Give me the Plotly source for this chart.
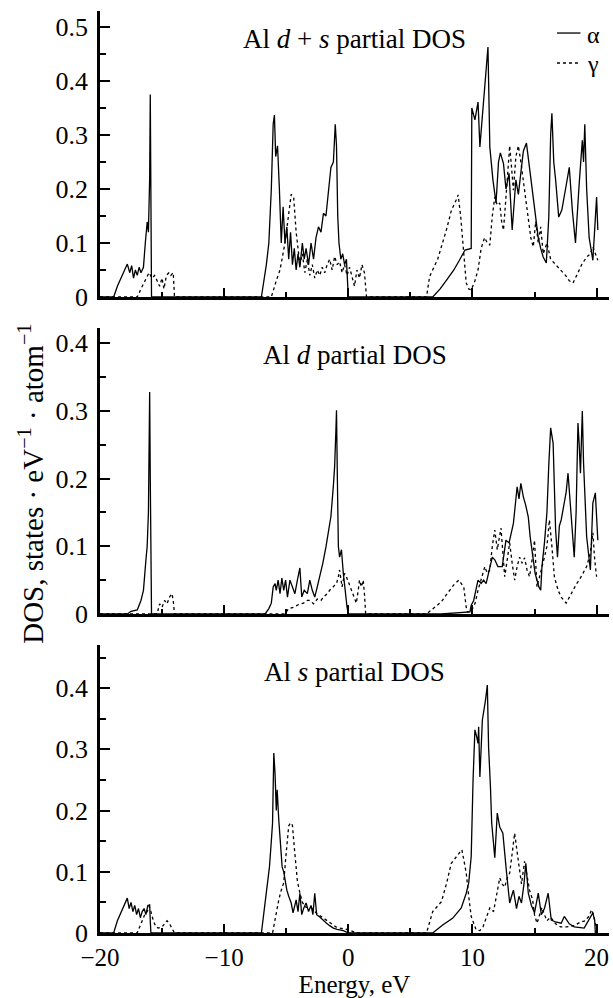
import plotly.graph_objects as go

# ---------------- data (energy in eV, DOS in states/eV/atom) ----------------
# Panel 1: Al d + s partial DOS
ds_alpha_E = [-20, -18.9, -18.6, -18.2, -17.8, -17.6, -17.45, -17.3, -17.15, -17.0, -16.85, -16.7, -16.5, -16.35, -16.2, -16.1, -16.0, -15.95, -15.9, -15.85,
              -7.0, -6.6, -6.4, -6.2, -6.05, -5.95, -5.85, -5.7, -5.55, -5.4, -5.25, -5.1, -4.95, -4.8, -4.65, -4.5, -4.35, -4.2, -4.05, -3.9, -3.7, -3.55, -3.4, -3.2, -3.0, -2.8, -2.6, -2.4, -2.2, -2.0, -1.8, -1.6, -1.4, -1.2, -1.05, -0.95, -0.85, -0.75, -0.6, -0.45, -0.3, -0.15, 0.0,
              6.8, 7.4, 7.9, 8.5, 8.95, 9.4, 9.9, 9.95, 10.2, 10.45, 10.6, 10.8, 11.1, 11.25, 11.4, 11.65, 11.9, 12.1, 12.25, 12.5, 12.7, 12.95, 13.2, 13.5, 13.7, 13.9, 14.1, 14.35, 14.55, 14.75, 15.0, 15.3, 15.5, 15.7, 15.95, 16.15, 16.3, 16.4, 16.55, 16.7, 16.95, 17.2, 17.5, 17.8, 18.05, 18.3, 18.6, 18.85, 18.95, 19.05, 19.2, 19.4, 19.7, 19.9, 20.0, 20.1]
ds_alpha_V = [0, 0, 0.02, 0.04, 0.061, 0.045, 0.058, 0.035, 0.05, 0.04, 0.055, 0.045, 0.055, 0.1, 0.139, 0.12, 0.22, 0.375, 0.15, 0,
              0, 0.06, 0.1, 0.2, 0.32, 0.337, 0.26, 0.28, 0.2, 0.1, 0.167, 0.1, 0.13, 0.07, 0.12, 0.06, 0.09, 0.05, 0.08, 0.055, 0.1, 0.07, 0.09, 0.06, 0.1, 0.07, 0.11, 0.13, 0.12, 0.155, 0.15, 0.19, 0.24, 0.25, 0.32, 0.28, 0.15, 0.1, 0.07, 0.08, 0.06, 0.07, 0,
              0, 0.015, 0.031, 0.05, 0.068, 0.087, 0.09, 0.35, 0.328, 0.361, 0.278, 0.34, 0.42, 0.463, 0.278, 0.217, 0.174, 0.25, 0.267, 0.247, 0.2, 0.229, 0.124, 0.217, 0.19, 0.235, 0.27, 0.285, 0.25, 0.21, 0.161, 0.11, 0.09, 0.074, 0.063, 0.148, 0.3, 0.34, 0.25, 0.217, 0.148, 0.161, 0.2, 0.24, 0.16, 0.1, 0.21, 0.29, 0.25, 0.32, 0.2, 0.11, 0.068, 0.15, 0.185, 0.124]
ds_gamma_E = [-20, -17.0, -16.7, -16.4, -16.05, -15.8, -15.6, -15.4, -15.2, -15.0, -14.85, -14.65, -14.45, -14.3, -14.1, -14.0,
              -6.2, -5.8, -5.5, -5.1, -4.8, -4.6, -4.4, -4.2, -3.9, -3.7, -3.5, -3.3, -3.1, -2.9, -2.7, -2.5, -2.3, -2.1, -1.9, -1.7, -1.5, -1.3, -1.1, -0.9, -0.7, -0.5, -0.3, -0.1, 0.1, 0.3, 0.5, 0.7, 0.9, 1.1, 1.3, 1.47,
              6.3, 6.55, 7.2, 7.9, 8.3, 8.7, 8.85, 9.05, 9.25, 9.5, 9.7, 9.9, 10.2, 10.45, 10.7, 10.98, 11.2, 11.4, 11.6, 11.8, 12.0, 12.2, 12.35, 12.5, 12.75, 13.0, 13.15, 13.3, 13.5, 13.7, 13.9, 14.1, 14.3, 14.5, 14.7, 14.9, 15.1, 15.3, 15.5, 15.7, 16.0, 16.3, 16.7, 17.1, 17.5, 17.8, 18.1, 18.4, 18.8, 19.2, 19.5, 19.7, 19.9, 20.1]
ds_gamma_V = [0, 0, 0.015, 0.03, 0.045, 0.035, 0.04, 0.03, 0.02, 0.035, 0.015, 0.04, 0.045, 0.04, 0.045, 0,
              0, 0.03, 0.05, 0.1, 0.16, 0.19, 0.185, 0.12, 0.06, 0.08, 0.045, 0.07, 0.04, 0.06, 0.035, 0.05, 0.04, 0.055, 0.045, 0.06, 0.07, 0.05, 0.075, 0.06, 0.065, 0.045, 0.06, 0.04, 0.055, 0.035, 0.02, 0.05, 0.035, 0.06, 0.045, 0,
              0, 0.038, 0.07, 0.124, 0.16, 0.18, 0.189, 0.15, 0.1, 0.026, 0.015, 0.013, 0.03, 0.05, 0.09, 0.11, 0.1, 0.096, 0.15, 0.185, 0.17, 0.174, 0.14, 0.124, 0.2, 0.28, 0.24, 0.198, 0.26, 0.28, 0.25, 0.216, 0.18, 0.148, 0.11, 0.093, 0.14, 0.1, 0.13, 0.08, 0.1, 0.07, 0.06, 0.05, 0.04, 0.03, 0.026, 0.04, 0.06, 0.074, 0.08, 0.093, 0.08, 0.068]

# Panel 2: Al d partial DOS
d_alpha_E = [-20, -17.8, -17.5, -17.0, -16.7, -16.5, -16.3, -16.2, -16.1, -16.0, -15.95, -15.85,
             -6.7, -6.4, -6.2, -6.05, -5.9, -5.8, -5.65, -5.5, -5.35, -5.2, -5.05, -4.9, -4.7, -4.5, -4.3, -4.1, -3.9, -3.75, -3.55, -3.3, -3.1, -2.9, -2.7, -2.5, -2.3, -2.05, -1.8, -1.6, -1.4, -1.2, -1.1, -1.0, -0.95, -0.88, -0.8, -0.7, -0.55, -0.4, -0.25, -0.1, 0.0,
             7.5, 9.8, 9.9, 10.1, 10.3, 10.45, 10.7, 10.9, 11.1, 11.3, 11.6, 11.8, 12.05, 12.4, 12.7, 12.95, 13.15, 13.3, 13.6, 13.75, 13.9, 14.1, 14.3, 14.5, 14.65, 14.9, 15.05, 15.2, 15.35, 15.5, 15.6, 15.8, 16.0, 16.15, 16.3, 16.5, 16.7, 16.85, 17.0, 17.15, 17.4, 17.55, 17.7, 17.95, 18.2, 18.35, 18.5, 18.6, 18.7, 18.85, 18.95, 19.2, 19.5, 19.7, 19.9, 20.1]
d_alpha_V = [0, 0, 0.004, 0.006, 0.02, 0.035, 0.08, 0.1, 0.15, 0.328, 0.2, 0,
             0, 0.008, 0.016, 0.04, 0.045, 0.035, 0.05, 0.03, 0.053, 0.035, 0.05, 0.025, 0.05, 0.04, 0.03, 0.05, 0.068, 0.025, 0.035, 0.03, 0.05, 0.035, 0.025, 0.04, 0.055, 0.075, 0.099, 0.12, 0.144, 0.19, 0.218, 0.27, 0.301, 0.2, 0.1, 0.084, 0.095, 0.06, 0.03, 0.01, 0,
             0, 0.003, 0.013, 0.02, 0.04, 0.05, 0.045, 0.05, 0.045, 0.06, 0.084, 0.08, 0.07, 0.07, 0.109, 0.105, 0.12, 0.134, 0.188, 0.17, 0.193, 0.173, 0.16, 0.143, 0.114, 0.075, 0.06, 0.05, 0.04, 0.035, 0.07, 0.105, 0.15, 0.22, 0.275, 0.252, 0.124, 0.084, 0.13, 0.139, 0.164, 0.18, 0.208, 0.139, 0.084, 0.15, 0.282, 0.25, 0.208, 0.3, 0.223, 0.114, 0.065, 0.164, 0.179, 0.109]
d_gamma_E = [-20, -15.4, -15.2, -15.0, -14.8, -14.6, -14.4, -14.2, -14.1, -14.0,
             -5.1, -4.8, -4.4, -4.0, -3.6, -3.3, -3.1, -2.8, -2.5, -2.2, -2.0, -1.7, -1.5, -1.2, -0.95, -0.8, -0.7, -0.5, -0.3, -0.15, 0.05, 0.25, 0.45, 0.65, 0.8, 0.9, 1.05, 1.2, 1.3, 1.4,
             6.3, 6.9, 7.5, 8.0, 8.5, 8.9, 9.1, 9.3, 9.5, 9.6, 9.9, 10.2, 10.45, 10.7, 11.0, 11.2, 11.4, 11.6, 11.8, 12.0, 12.3, 12.6, 12.8, 13.0, 13.2, 13.4, 13.6, 13.8, 14.0, 14.2, 14.4, 14.6, 14.8, 15.0, 15.2, 15.5, 15.8, 16.0, 16.2, 16.4, 16.6, 16.9, 17.15, 17.55, 17.8, 18.1, 18.4, 18.6, 18.9, 19.2, 19.5, 19.7, 19.85, 20.0]
d_gamma_V = [0, 0, 0.015, 0.01, 0.02, 0.015, 0.025, 0.03, 0.02, 0,
             0, 0.008, 0.01, 0.014, 0.016, 0.02, 0.02, 0.015, 0.022, 0.02, 0.025, 0.03, 0.035, 0.04, 0.045, 0.055, 0.065, 0.04, 0.06, 0.055, 0.045, 0.035, 0.025, 0.016, 0.035, 0.05, 0.04, 0.05, 0.03, 0,
             0, 0.009, 0.018, 0.031, 0.043, 0.05, 0.045, 0.04, 0.01, 0.003, 0.004, 0.015, 0.035, 0.05, 0.07, 0.06, 0.065, 0.1, 0.124, 0.095, 0.127, 0.055, 0.08, 0.105, 0.075, 0.05, 0.07, 0.084, 0.075, 0.083, 0.065, 0.055, 0.08, 0.109, 0.04, 0.06, 0.084, 0.1, 0.139, 0.1, 0.055, 0.035, 0.025, 0.016, 0.025, 0.035, 0.045, 0.05, 0.06, 0.07, 0.09, 0.12, 0.08, 0.055]

# Panel 3: Al s partial DOS
s_alpha_E = [-20, -18.9, -18.6, -18.2, -17.8, -17.65, -17.5, -17.35, -17.2, -17.05, -16.9, -16.75, -16.6, -16.45, -16.3, -16.15, -16.0, -15.95, -15.9,
             -7.0, -6.7, -6.5, -6.35, -6.2, -6.1, -6.0, -5.9, -5.8, -5.73, -5.6, -5.45, -5.33, -5.2, -5.1, -4.95, -4.8, -4.6, -4.45, -4.3, -4.2, -4.05, -3.9, -3.75, -3.6, -3.4, -3.2, -3.0, -2.85, -2.7, -2.55, -2.3, -2.0, -1.75, -1.5, -1.2, -0.9, -0.4, 0.0,
             6.8, 7.6, 8.4, 9.1, 9.5, 9.7, 9.9, 10.05, 10.2, 10.35, 10.45, 10.5, 10.6, 10.8, 10.9, 11.05, 11.2, 11.3, 11.45, 11.55, 11.8, 12.0, 12.2, 12.45, 12.75, 13.0, 13.15, 13.3, 13.55, 13.75, 13.95, 14.15, 14.3, 14.5, 14.75, 15.0, 15.3, 15.55, 15.8, 16.1, 16.35, 16.7, 17.15, 17.4, 17.8, 18.2, 19.0, 19.4, 19.7, 19.85, 19.9]
s_alpha_V = [0, 0, 0.02, 0.04, 0.057, 0.04, 0.05, 0.035, 0.045, 0.03, 0.04, 0.025, 0.035, 0.04, 0.03, 0.045, 0.046, 0.02, 0,
             0, 0.05, 0.09, 0.108, 0.15, 0.18, 0.294, 0.26, 0.2, 0.234, 0.185, 0.13, 0.108, 0.1, 0.087, 0.07, 0.06, 0.049, 0.033, 0.045, 0.054, 0.035, 0.065, 0.03, 0.04, 0.049, 0.035, 0.045, 0.03, 0.065, 0.03, 0.026, 0.02, 0.016, 0.012, 0.008, 0.006, 0.004, 0,
             0, 0.013, 0.024, 0.041, 0.065, 0.082, 0.125, 0.25, 0.332, 0.32, 0.31, 0.337, 0.255, 0.348, 0.359, 0.38, 0.405, 0.304, 0.239, 0.18, 0.123, 0.196, 0.173, 0.163, 0.098, 0.049, 0.06, 0.07, 0.04, 0.06, 0.049, 0.08, 0.114, 0.065, 0.045, 0.033, 0.065, 0.03, 0.04, 0.065, 0.021, 0.018, 0.016, 0.027, 0.015, 0.01, 0.008, 0.021, 0.033, 0.02, 0]
s_gamma_E = [-20, -17.0, -16.7, -16.4, -16.2, -16.05, -15.9, -15.7, -15.5, -15.3, -15.0, -14.8, -14.6, -14.4, -14.2, -14.0,
             -6.1, -5.8, -5.6, -5.4, -5.2, -5.05, -4.95, -4.8, -4.65, -4.5, -4.35, -4.25, -4.1, -3.95, -3.7, -3.4, -3.0, -2.6, -2.0, -1.5, -1.0, -0.7, 0.1, 0.6,
             6.3, 6.8, 7.5, 7.9, 8.3, 8.8, 9.15, 9.3, 9.5, 9.7, 9.9, 10.3, 10.6, 10.85, 11.1, 11.4, 11.7, 12.0, 12.2, 12.4, 12.6, 12.8, 13.0, 13.2, 13.4, 13.55, 13.7, 13.95, 14.2, 14.4, 14.6, 14.85, 15.0, 15.2, 15.4, 15.6, 15.8, 16.0, 16.3, 16.7, 17.1, 17.6, 18.2, 18.7, 19.1, 19.4, 19.6, 19.75, 19.9, 20.05, 20.1]
s_gamma_V = [0, 0, 0.015, 0.03, 0.035, 0.044, 0.035, 0.02, 0.01, 0.008, 0.01, 0.015, 0.02, 0.015, 0.008, 0,
             0, 0.035, 0.054, 0.07, 0.082, 0.12, 0.14, 0.175, 0.18, 0.176, 0.14, 0.114, 0.085, 0.07, 0.05, 0.042, 0.042, 0.033, 0.024, 0.016, 0.01, 0.008, 0.005, 0,
             0, 0.035, 0.051, 0.08, 0.114, 0.127, 0.136, 0.12, 0.098, 0.06, 0.027, 0.005, 0.004, 0.01, 0.025, 0.041, 0.035, 0.07, 0.09, 0.08, 0.075, 0.09, 0.098, 0.13, 0.163, 0.14, 0.114, 0.08, 0.117, 0.09, 0.07, 0.054, 0.03, 0.016, 0.03, 0.042, 0.03, 0.02, 0.026, 0.015, 0.01, 0.01, 0.012, 0.018, 0.02, 0.028, 0.038, 0.03, 0.016, 0.005, 0]

panel_titles = ["Al <i>d</i> + <i>s</i> partial DOS", "Al <i>d</i> partial DOS", "Al <i>s</i> partial DOS"]
series_names = ["α", "γ"]
x_tick_vals = [-20, -10, 0, 10, 20]
x_tick_text = ["−20", "−10", "0", "10", "20"]
y_axis_label = "DOS, states · eV<sup>−1</sup> · atom<sup>−1</sup>"
x_axis_label = "Energy, eV"

# ---------------- figure ----------------
FONT = "Liberation Serif"
panels = [
    (ds_alpha_E, ds_alpha_V, ds_gamma_E, ds_gamma_V),
    (d_alpha_E, d_alpha_V, d_gamma_E, d_gamma_V),
    (s_alpha_E, s_alpha_V, s_gamma_E, s_gamma_V),
]
y_domains = [[0.6898, 1.0], [0.346, 0.6562], [0.0, 0.3124]]
y_ranges = [[0, 0.5296], [0, 0.4225], [0, 0.4706]]
line_styles = [dict(color="black", width=1.3), dict(color="black", width=1.3, dash="dot")]

fig = go.Figure()
for i, (aE, aV, gE, gV) in enumerate(panels):
    n = "" if i == 0 else str(i + 1)
    fig.add_trace(go.Scatter(x=aE, y=aV, mode="lines", name=series_names[0],
                             line=line_styles[0], xaxis="x" + n, yaxis="y" + n, showlegend=False))
    fig.add_trace(go.Scatter(x=gE, y=gV, mode="lines", name=series_names[1],
                             line=line_styles[1], xaxis="x" + n, yaxis="y" + n, showlegend=False))

layout = dict(
    width=613, height=998,
    margin=dict(l=100, r=4, t=11, b=65, autoexpand=False),
    paper_bgcolor="white", plot_bgcolor="white",
    font=dict(family=FONT, size=26, color="black"),
    showlegend=False,
)
for i in range(3):
    n = "" if i == 0 else str(i + 1)
    layout["xaxis" + n] = dict(
        domain=[0, 1], range=[-20, 21], anchor="y" + n, automargin=False,
        showline=True, linecolor="black", linewidth=2.5,
        ticks="inside", ticklen=9, tickwidth=1.5, tickcolor="black",
        tickvals=x_tick_vals, ticktext=x_tick_text,
        showticklabels=(i == 2), showgrid=False, zeroline=False,
        minor=dict(ticks="inside", ticklen=5, tickwidth=1.5, tickcolor="black",
                   tickvals=[-15, -5, 5, 15], showgrid=False),
        tickfont=dict(family=FONT, size=25),
    )
    layout["yaxis" + n] = dict(
        domain=y_domains[i], range=y_ranges[i], anchor="x" + n, automargin=False,
        showline=True, linecolor="black", linewidth=2.5,
        ticks="inside", ticklen=10, tickwidth=1.5, tickcolor="black",
        dtick=0.1, tick0=0, showgrid=False, zeroline=False,
        minor=dict(ticks="inside", ticklen=6, tickwidth=1.5, tickcolor="black",
                   dtick=0.05, showgrid=False),
        tickfont=dict(family=FONT, size=26), ticklabelstandoff=4,
    )
layout["xaxis3"]["title"] = dict(text=x_axis_label, font=dict(family=FONT, size=25), standoff=2)

annotations = []
title_y = [0.988, 0.645, 0.302]
for i, t in enumerate(panel_titles):
    annotations.append(dict(text=t, x=0.5, y=title_y[i], xref="paper", yref="paper",
                            xanchor="center", yanchor="top", showarrow=False,
                            font=dict(family=FONT, size=27)))
annotations.append(dict(text=y_axis_label, x=-0.136, y=0.487, xref="paper", yref="paper",
                        textangle=-90, showarrow=False, xanchor="center", yanchor="middle",
                        font=dict(family=FONT, size=29)))
# legend key (drawn in paper coordinates)
legend_line_y = [0.9761, 0.9436]
legend_text_y = [0.9740, 0.9425]
shapes = []
for k in range(2):
    shapes.append(dict(type="line", xref="paper", yref="paper", x0=0.8978, x1=0.9440,
                       y0=legend_line_y[k], y1=legend_line_y[k], line=line_styles[k]))
    annotations.append(dict(text=series_names[k], x=0.952, y=legend_text_y[k], xref="paper", yref="paper",
                            xanchor="left", yanchor="middle", showarrow=False,
                            font=dict(family=FONT, size=24)))
layout["annotations"] = annotations
layout["shapes"] = shapes
fig.update_layout(**layout)

fig.write_html("out.html", config={"displayModeBar": False},
               post_script="document.body.style.margin='0';document.body.style.overflow='hidden';")
